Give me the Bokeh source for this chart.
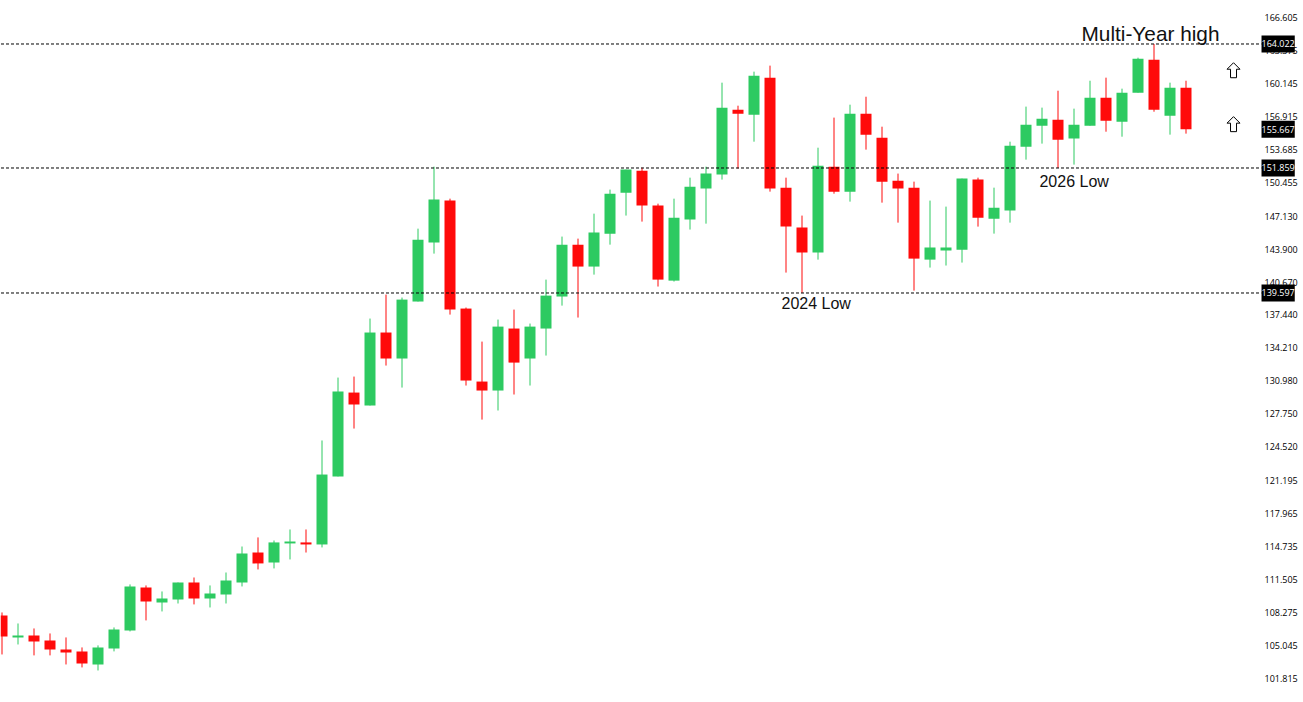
from bokeh.core.properties import value
from bokeh.embed import file_html
from bokeh.models import ColumnDataSource, FixedTicker, Label, LinearAxis, Range1d
from bokeh.plotting import figure
from bokeh.resources import INLINE

# monthly candles
opens = [107.97, 105.81, 106.01, 105.52, 104.63, 104.44, 103.16, 104.73, 106.50, 110.71,
         109.24, 109.54, 111.20, 109.63, 110.03, 111.20, 114.14, 113.16, 115.03, 115.13,
         114.93, 121.60, 129.83, 128.56, 135.72, 133.17, 138.76, 144.54, 148.66, 138.07,
         130.91, 130.03, 136.11, 133.17, 136.11, 139.25, 144.34, 142.19, 145.42, 149.44,
         151.60, 148.17, 140.81, 146.80, 149.84, 151.21, 157.58, 157.09, 160.72, 149.93,
         146.01, 143.56, 151.99, 149.54, 157.19, 154.83, 150.62, 149.93, 142.87, 143.76,
         143.85, 150.72, 146.89, 147.68, 153.95, 156.01, 156.60, 154.74, 156.01, 158.76,
         156.40, 159.25, 162.48, 156.99, 159.74]
highs = [108.26, 107.18, 106.69, 106.20, 105.81, 104.83, 105.03, 106.79, 111.01, 110.91,
         110.32, 111.20, 111.69, 110.91, 112.18, 114.73, 115.62, 115.32, 116.40, 116.40,
         125.13, 131.30, 131.40, 137.09, 139.44, 139.15, 145.91, 151.99, 148.85, 138.17,
         134.83, 136.99, 137.97, 136.60, 140.91, 145.13, 144.93, 147.38, 149.74, 151.70,
         151.89, 148.36, 148.85, 150.91, 151.99, 160.23, 157.97, 161.31, 161.90, 150.91,
         147.19, 153.85, 156.80, 158.07, 158.85, 155.91, 151.31, 150.52, 148.66, 148.07,
         150.82, 150.91, 149.93, 154.44, 157.88, 157.78, 159.44, 157.68, 160.42, 160.72,
         159.64, 162.68, 164.02, 160.23, 160.42]
lows = [104.14, 105.12, 104.05, 104.05, 103.16, 102.87, 102.57, 104.44, 106.40, 107.48,
        108.36, 109.14, 109.05, 108.75, 109.14, 110.81, 112.48, 112.58, 113.46, 114.14,
        114.64, 121.60, 126.30, 128.56, 132.48, 130.32, 138.76, 143.46, 137.48, 130.52,
        127.18, 128.07, 129.64, 130.52, 133.46, 138.36, 137.19, 141.40, 144.34, 147.19,
        146.60, 140.23, 140.72, 145.82, 146.40, 150.72, 151.80, 154.44, 149.54, 141.60,
        139.60, 142.87, 149.34, 148.56, 153.66, 148.46, 146.50, 139.83, 142.09, 142.29,
        142.58, 146.11, 145.42, 146.50, 152.68, 154.25, 151.86, 152.19, 156.01, 155.42,
        154.93, 159.25, 157.38, 155.13, 155.23]
closes = [105.91, 106.01, 105.42, 104.63, 104.34, 103.26, 104.83, 106.60, 110.81, 109.34,
          109.63, 111.20, 109.63, 110.12, 111.40, 114.05, 113.07, 115.13, 115.22, 114.93,
          121.79, 129.93, 128.66, 135.72, 133.17, 138.95, 144.83, 148.76, 137.97, 131.01,
          130.03, 136.30, 132.77, 136.30, 139.34, 144.34, 142.19, 145.52, 149.34, 151.70,
          148.17, 140.91, 146.99, 150.03, 151.31, 157.78, 157.19, 160.91, 149.84, 146.11,
          143.56, 152.09, 149.54, 157.19, 155.13, 150.52, 149.84, 142.97, 144.05, 144.05,
          150.82, 146.99, 147.97, 154.05, 156.11, 156.70, 154.64, 156.11, 158.76, 156.50,
          159.25, 162.58, 157.58, 159.74, 155.667]

tick_values = [166.605, 163.375, 160.145, 156.915, 153.685, 150.455, 147.130, 143.900,
               140.670, 137.440, 134.210, 130.980, 127.750, 124.520, 121.195, 117.965,
               114.735, 111.505, 108.275, 105.045, 101.815]
level_values = [164.022, 151.859, 139.597]
last_price = 155.667
arrow_x = [76.97, 76.97]
arrow_y = [161.45, 156.16]

GREEN = "#2DCA61"
RED = "#FF0A0A"
PX_X = 1 / 16       # one pixel in x units
PX_Y = 0.098093     # one pixel in price units
TAG_X = 78.72       # left edge of the price tags, where the dashed levels stop

idx = list(range(len(opens)))
colors = [GREEN if c >= o else RED for o, c in zip(opens, closes)]
source = ColumnDataSource(dict(x=idx, open=opens, high=highs, low=lows, close=closes,
                               top=[max(o, c) for o, c in zip(opens, closes)],
                               bottom=[min(o, c) for o, c in zip(opens, closes)],
                               color=colors))

p = figure(width=1303, height=702, output_backend="svg", toolbar_location=None,
           x_range=Range1d(-0.09375, 81.34375), y_range=Range1d(99.428, 168.289),
           y_axis_location=None, x_axis_location=None,
           min_border_left=0, min_border_top=0, min_border_bottom=0, min_border_right=0)
p.outline_line_color = None
p.xgrid.visible = False
p.ygrid.visible = False

# negative standoff pulls the price labels back over the frame, so the frame can run full width
axis = LinearAxis(ticker=FixedTicker(ticks=tick_values))
axis.axis_line_color = None
axis.major_tick_line_color = None
axis.minor_tick_line_color = None
axis.major_tick_in = 0
axis.major_tick_out = 0
axis.minor_tick_in = 0
axis.minor_tick_out = 0
axis.major_label_standoff = -39
axis.major_label_text_font = "Open Sans"
axis.major_label_text_font_size = "9px"
axis.major_label_text_color = "black"
axis.major_label_overrides = {t: f"{t:.3f}" for t in tick_values}
p.add_layout(axis, "right")

p.segment("x", "high", "x", "low", source=source, color="color", line_width=1)
p.vbar("x", width=0.6875, top="top", bottom="bottom", source=source,
       fill_color="color", line_color=None)

# dashed levels
p.segment([-1] * 3, level_values, [TAG_X] * 3, level_values, line_color="black",
          line_width=1, line_dash="3 2")

# notes on the chart
p.text([67.47], [165.03], text=["Multi-Year high"], text_font=value("Liberation Sans"),
       text_font_size="20.8px", text_color="#111111", text_baseline="alphabetic")
p.text([64.84, 48.72], [150.52, 138.56], text=["2026 Low", "2024 Low"],
       text_font=value("Liberation Sans"), text_font_size="16px",
       text_color="#111111", text_baseline="alphabetic")

# hollow up arrows
shape = [(0, -7.5), (6.5, -1), (3, -1), (3, 7.5), (-3, 7.5), (-3, -1), (-6.5, -1)]
xs = [[ax + dx * PX_X for dx, dy in shape] for ax in arrow_x]
ys = [[ay - dy * PX_Y for dx, dy in shape] for ay in arrow_y]
p.patches(xs, ys, fill_color="white", line_color="black", line_width=1)

# black price tags on the axis
for lvl in level_values + [last_price]:
    p.add_layout(Label(x=TAG_X, y=lvl, text=f"{lvl:.3f}", level="overlay",
                       text_font="Open Sans", text_font_size="9px", text_color="white",
                       text_baseline="middle", background_fill_color="black",
                       padding=(0, 5)))

open("out.html", "w").write(file_html(p, INLINE))
